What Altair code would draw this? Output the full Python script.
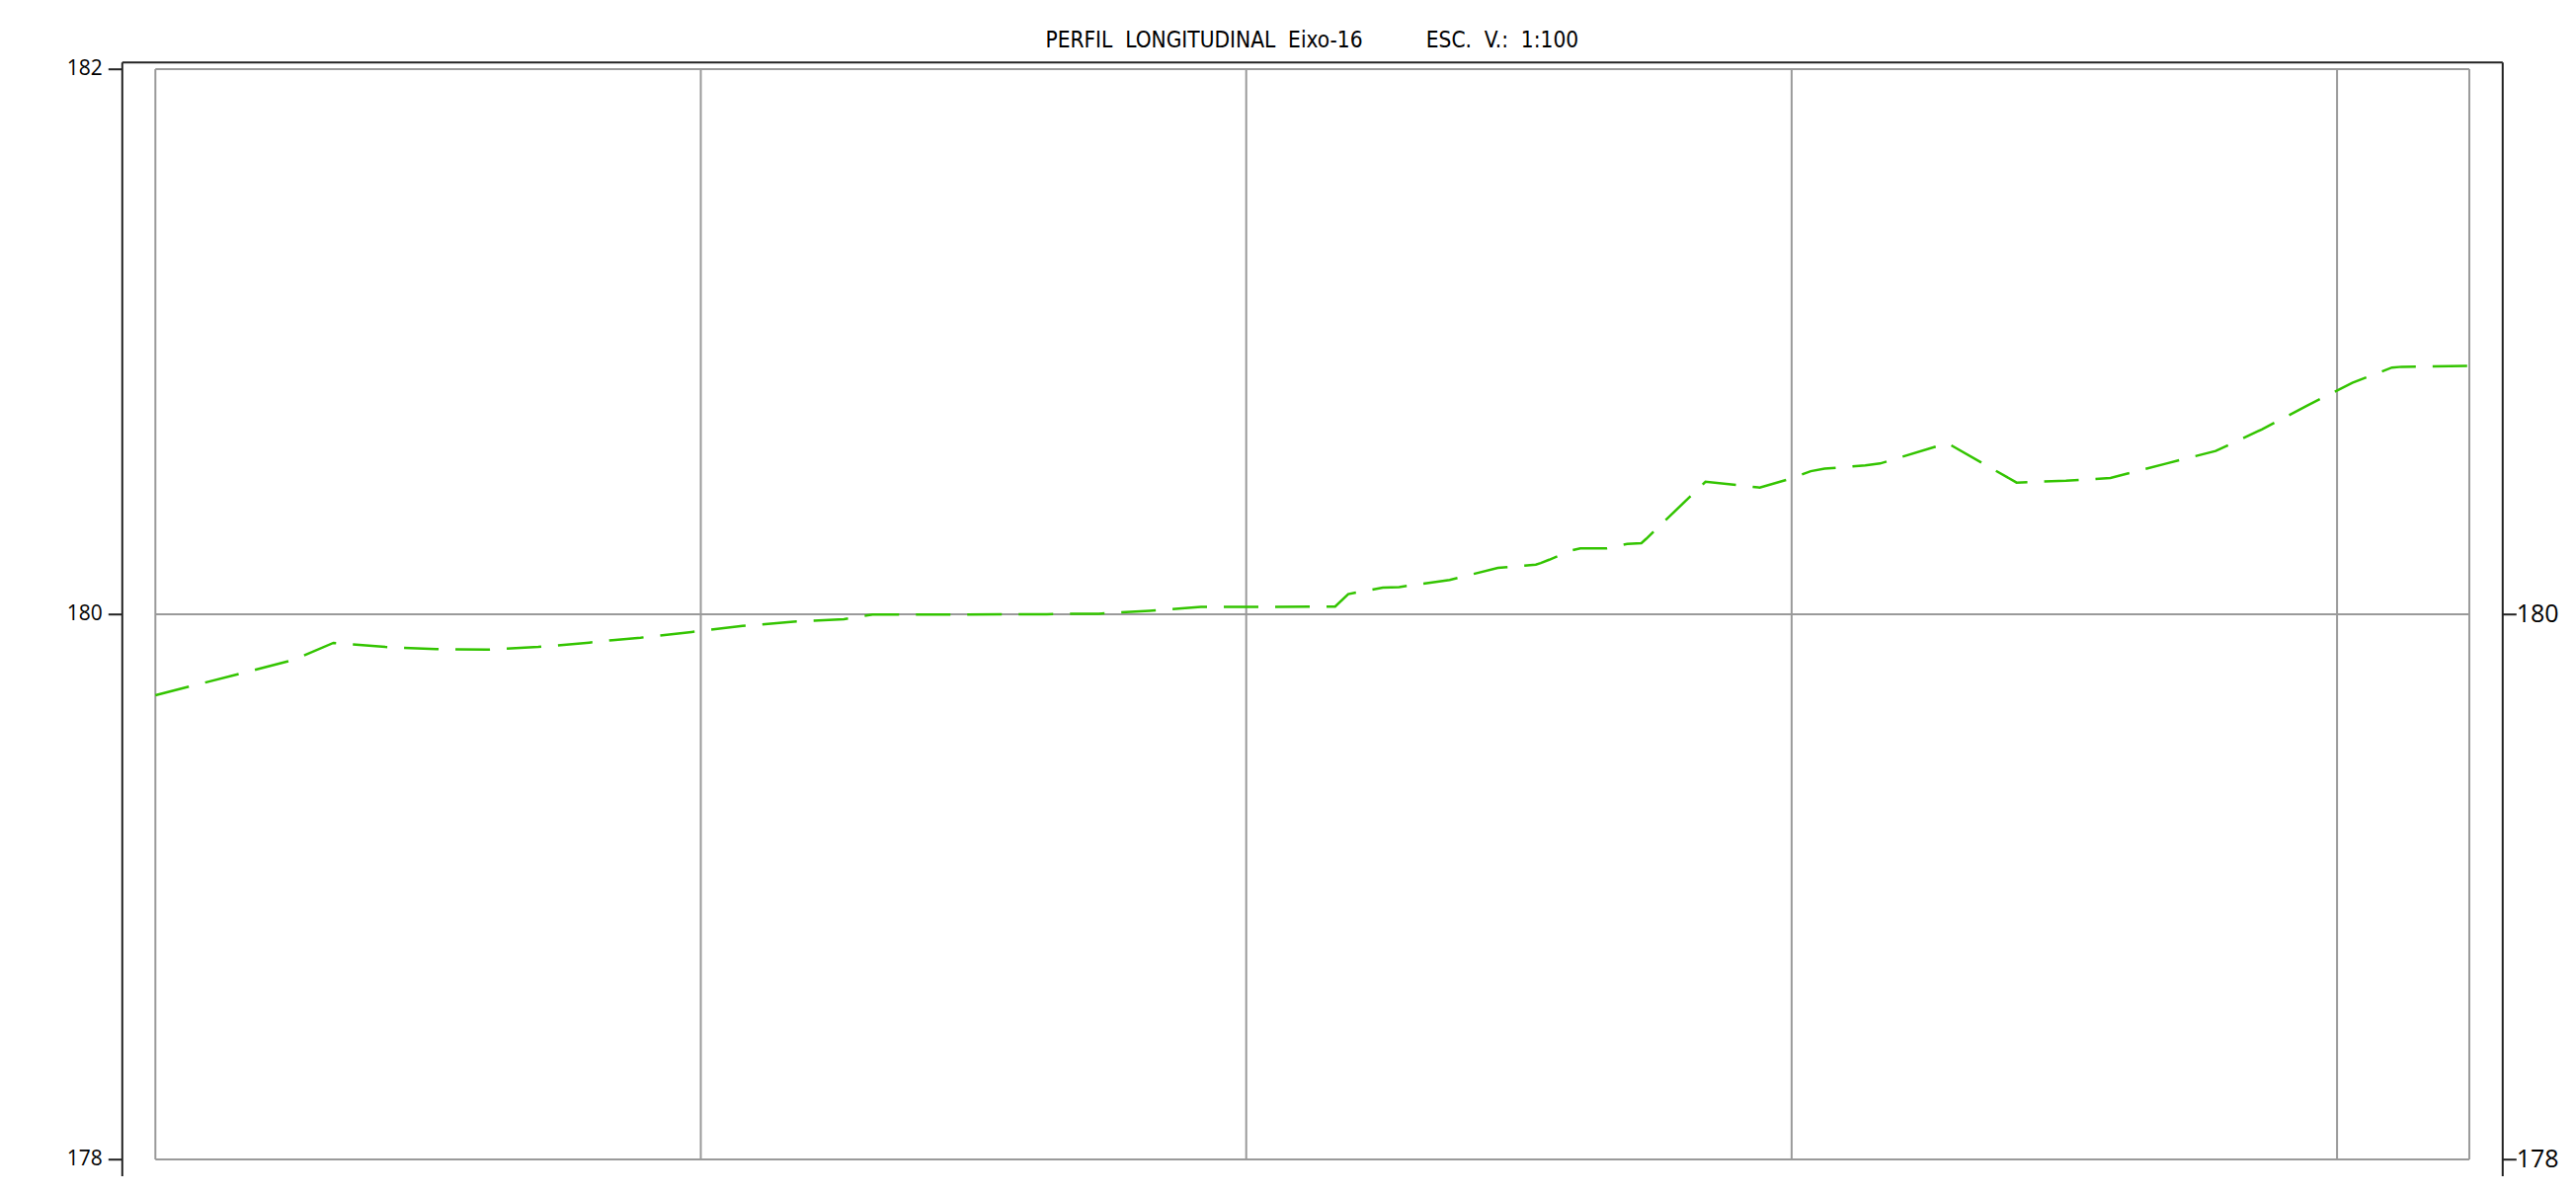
import altair as alt
import pandas as pd

# ---- data ----
station = [0.0, 5.05, 6.53, 8.43, 10.30, 12.17, 14.04, 15.91, 16.76, 17.79,
           19.66, 21.53, 23.40, 25.25, 26.30, 28.95, 32.69, 33.77, 34.60, 36.46,
           38.34, 43.26, 43.74, 45.01, 45.61, 47.46, 49.23, 50.62, 50.80, 51.11,
           51.89, 52.25, 53.22, 53.97, 54.49, 54.67, 56.84, 58.83, 60.04, 60.70,
           61.21, 62.70, 63.24, 65.71, 68.25, 70.06, 71.69, 73.74, 75.55, 77.24,
           78.91, 80.56, 82.01, 82.37, 84.85]
elevation = [179.703, 179.832, 179.895, 179.880, 179.872, 179.870, 179.880, 179.896, 179.905, 179.914,
             179.935, 179.957, 179.973, 179.982, 179.999, 179.999, 180.000, 180.002, 180.002, 180.013,
             180.027, 180.028, 180.074, 180.098, 180.100, 180.126, 180.170, 180.182, 180.188, 180.200,
             180.233, 180.242, 180.242, 180.258, 180.261, 180.277, 180.486, 180.465, 180.500, 180.525,
             180.534, 180.546, 180.553, 180.628, 180.483, 180.490, 180.500, 180.553, 180.599, 180.678,
             180.766, 180.849, 180.905, 180.908, 180.911]

grid_stations = [0, 20, 40, 60, 80]
end_station = 84.85
grid_elev = [178, 180, 182]
left_ticks = [178, 180, 182]
right_ticks = [178, 180]
NB = "\u00a0"
title_text = ("PERFIL" + NB * 2 + "LONGITUDINAL" + NB * 2 + "Eixo-16" + NB * 10 +
              "ESC." + NB * 2 + "V.:" + NB * 2 + "1:100")

profile = pd.DataFrame({"station": station, "elev": elevation})
vlines = pd.DataFrame({"station": grid_stations + [end_station],
                       "y0": [grid_elev[0]] * (len(grid_stations) + 1),
                       "y1": [grid_elev[-1]] * (len(grid_stations) + 1)})
hlines = pd.DataFrame({"elev": grid_elev,
                       "x0": [0] * len(grid_elev),
                       "x1": [end_station] * len(grid_elev)})

x_scale = alt.Scale(domain=[-1.2314, 86.056], nice=False, zero=False)
y_scale = alt.Scale(domain=[177.9395, 182.0264], nice=False, zero=False)

GRAY = "#9a9a9a"
BLACK = "#222222"
LABEL_FONT = "Open Sans"
TITLE_FONT = "DejaVu Sans Condensed, Liberation Sans Narrow, Liberation Sans, DejaVu Sans, sans-serif"

vrule = alt.Chart(vlines).mark_rule(color=GRAY, strokeWidth=2).encode(
    x=alt.X("station:Q", scale=x_scale,
            axis=alt.Axis(orient="top", domain=True, domainColor=BLACK, domainWidth=2,
                          ticks=False, labels=False, grid=False, title=None)),
    y=alt.Y("y0:Q", scale=y_scale,
            axis=alt.Axis(orient="left", values=left_ticks, domain=True, domainColor=BLACK,
                          domainWidth=2, ticks=True, tickColor=BLACK, tickWidth=2, tickSize=14,
                          labelFont=LABEL_FONT, labelFontSize=21, labelColor="#000000",
                          labelPadding=6, grid=False, title=None, format="d")),
    y2="y1:Q",
)

hrule = alt.Chart(hlines).mark_rule(color=GRAY, strokeWidth=2).encode(
    x=alt.X("x0:Q", scale=x_scale, axis=None),
    x2="x1:Q",
    y=alt.Y("elev:Q", scale=y_scale,
            axis=alt.Axis(orient="right", values=right_ticks, domain=True, domainColor=BLACK,
                          domainWidth=2, ticks=True, tickColor=BLACK, tickWidth=2, tickSize=14,
                          labelFont=LABEL_FONT, labelFontSize=25, labelColor="#000000",
                          labelPadding=0, grid=False, title=None, format="d")),
)

line = alt.Chart(profile).mark_line(color="#33c400", strokeWidth=2.5,
                                    strokeDash=[35, 17]).encode(
    x=alt.X("station:Q", scale=x_scale, axis=None),
    y=alt.Y("elev:Q", scale=y_scale, axis=None),
)

chart = alt.layer(vrule, hrule, line).resolve_axis(
    x="independent", y="independent"
).properties(
    width=2410,
    height=1128,
    title=alt.TitleParams(text=title_text, anchor="middle", font=TITLE_FONT,
                          fontSize=22.5, fontWeight="normal", color="#000000",
                          baseline="alphabetic", offset=7, dy=19),
    autosize=alt.AutoSizeParams(type="none"),
    padding={"left": 115.3, "top": 54.7, "right": 60, "bottom": 0},
).configure_view(stroke=None)

chart.save("out.html", embed_options={"renderer": "svg", "actions": False})
